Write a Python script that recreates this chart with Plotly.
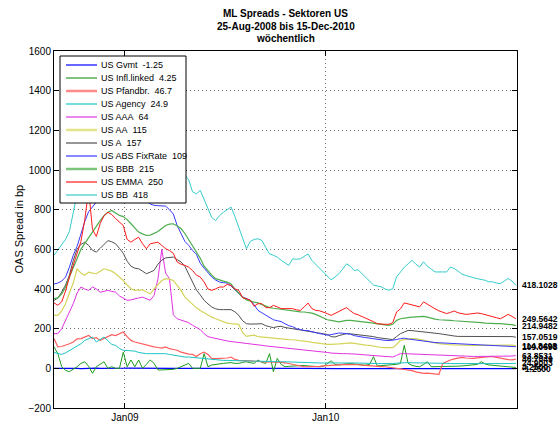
import plotly.graph_objects as go
import pandas as pd

# ---------------- data ----------------
dates = pd.date_range("2008-08-25", periods=121, freq="7D")

names = ["US Gvmt", "US Infl.linked", "US Pfandbr.", "US Agency", "US AAA", "US AA",
         "US A", "US ABS FixRate", "US BBB", "US EMMA", "US BB"]
legend_vals = ["-1.25", "4.25", "46.7", "24.9", "64", "115", "157", "109", "215", "250", "418"]
title_lines = ["ML Spreads - Sektoren US", "25-Aug-2008 bis 15-Dec-2010", "wöchentlich"]
x_tickvals = ["2009-01-01", "2010-01-01"]
x_ticktext = ["Jan09", "Jan10"]

gvmt = [0.0, 0.4, -0.3, 0.6, 1.0, 0.8, -0.4, -1.2, 0.2, 0.9,
        1.5, 0.7, -0.6, -1.0, 0.3, 1.2, 0.5, -0.2, 0.4, 1.0,
        0.6, -0.5, -0.9, 0.2, 0.8, 0.3, -0.4, -0.1, 0.5, 0.2,
        -0.3, -0.6, 0.1, 0.4, 0.0, -0.5, -0.2, 0.3, 0.1, -0.4,
        -0.7, -0.3, 0.2, 0.0, -0.4, -0.6, -0.2, 0.1, -0.3, -0.5,
        -0.8, -0.4, -0.1, -0.6, -0.9, -0.5, -0.3, -0.7, -1.0, -0.6,
        -0.4, -0.8, -1.1, -0.7, -0.5, -0.9, -1.2, -0.8, -0.6, -1.0,
        -1.3, -0.9, -0.7, -1.1, -1.4, -1.0, -0.8, -1.2, -1.5, -1.1,
        -0.9, -1.3, -1.6, -1.2, -1.0, -1.4, -1.7, -1.3, -1.1, -1.5,
        -1.8, -1.4, -1.2, -1.6, -1.9, -1.5, -1.3, -1.7, -2.0, -1.6,
        -1.4, -1.8, -1.5, -1.3, -1.7, -1.9, -1.6, -1.4, -1.8, -1.5,
        -1.3, -1.6, -1.4, -1.2, -1.5, -1.3, -1.1, -1.4, -1.2, -1.3,
        -1.25]

infl = [108, 74, 8, -10, -17, -5, 8, 25, 33, 10,
        -25, 8, 20, 33, 0, 8, 0, 0, 82, 8,
        42, 8, 42, 0, 20, 42, 25, -8, -8, -8,
        -8, -5, 0, 8, 15, 25, 0, 0, 0, 74,
        8, 17, 20, 25, 25, 27, 29, 25, 25, 30,
        33, 28, 25, 42, 30, 25, 74, -17, 50, 20,
        8, 10, 12, 12, 14, 15, 12, 10, 8, 8,
        10, 25, 38, 20, 17, 20, 24, 25, 22, 18,
        17, 16, 20, 59, 12, 14, 15, 16, 17, 20,
        25, 116, 25, 15, 10, 8, 20, 33, 8, 8,
        8, 8, 8, 9, 10, 11, 12, 14, 16, 18,
        20, 33, 22, 17, 15, 14, 12, 10, 9, 7,
        4.25]

pfandbr = [150, 108, 110, 116, 124, 133, 149, 150, 158, 166,
           150, 155, 141, 150, 158, 170, 165, 175, 183, 160,
           141, 133, 128, 124, 116, 112, 108, 105, 102, 108,
           99, 95, 91, 82, 76, 72, 70, 60, 74, 82,
           70, 49, 49, 49, 50, 52, 57, 45, 40, 40,
           40, 38, 36, 34, 32, 32, 32, 32, 31, 30,
           28, 24, 20, 16, 12, 8, 8, 8, 8, 10,
           12, 14, 16, 18, 18, 19, 20, 20, 20, 18,
           16, 14, 13, 12, 10, 9, 8, 6, 3, 0,
           -3, -6, -8, -12, -18, -22, -25, -24, -25, -28,
           -30, 25, 35, 42, 48, 53, 55, 52, 50, 50,
           53, 56, 58, 59, 59, 55, 50, 45, 44, 43,
           46.7049]

agency = [80, 74, 70, 78, 90, 100, 116, 124, 141, 150,
          158, 133, 145, 158, 140, 120, 116, 100, 91, 90,
          88, 87, 80, 76, 74, 74, 74, 74, 76, 74,
          70, 66, 62, 58, 57, 57, 55, 53, 50, 49,
          48, 45, 42, 41, 40, 40, 39, 38, 38, 38,
          37, 37, 36, 36, 35, 35, 34, 34, 33, 33,
          33, 32, 32, 31, 31, 30, 30, 29, 28, 27,
          27, 26, 26, 27, 27, 28, 28, 27, 27, 26,
          26, 25, 25, 24, 24, 24, 23, 23, 24, 26,
          28, 29, 29, 28, 28, 27, 27, 27, 26, 26,
          25, 25, 25, 24, 24, 24, 23, 23, 23, 22,
          22, 22, 21, 21, 21, 22, 22, 23, 24, 25,
          24.9003]

aaa = [175, 175, 200, 242, 290, 326, 380, 410, 400, 393,
       410, 400, 384, 390, 393, 388, 384, 365, 355, 343,
       345, 351, 355, 359, 350, 343, 368, 450, 600, 480,
       452, 270, 250, 242, 236, 230, 217, 208, 195, 175,
       160, 155, 150, 145, 141, 138, 135, 133, 130, 128,
       126, 124, 121, 118, 116, 113, 111, 109, 107, 105,
       104, 102, 100, 99, 97, 95, 93, 91, 88, 84,
       82, 80, 77, 75, 74, 74, 74, 74, 73, 71,
       69, 67, 65, 63, 62, 61, 60, 59, 57, 65,
       74, 74, 73, 72, 71, 71, 70, 69, 67, 66,
       65, 65, 64, 63, 63, 62, 62, 61, 61, 60,
       60, 60, 60, 60, 60, 60, 61, 61, 62, 62,
       63.8531]

aa = [267, 267, 290, 326, 380, 430, 502, 480, 469, 485,
      480, 477, 490, 502, 497, 490, 477, 460, 443, 420,
      401, 393, 395, 396, 385, 376, 401, 425, 443, 452,
      450, 443, 420, 393, 359, 340, 326, 305, 292, 280,
      267, 258, 250, 242, 235, 228, 225, 222, 222, 180,
      161, 165, 167, 160, 158, 155, 153, 150, 148, 147,
      146, 145, 144, 142, 141, 138, 135, 131, 128, 125,
      123, 121, 121, 121, 123, 125, 127, 128, 126, 122,
      119, 117, 116, 112, 108, 105, 104, 104, 104, 120,
      141, 145, 148, 150, 150, 145, 140, 136, 133, 128,
      125, 122, 121, 119, 118, 117, 116, 116, 116, 116,
      116, 116, 116, 117, 118, 118, 119, 119, 118, 117,
      114.8498]

us_a = [342, 355, 385, 420, 470, 544, 600, 625, 636, 620,
        595, 586, 605, 625, 644, 638, 628, 605, 580, 540,
        515, 505, 502, 490, 477, 485, 494, 525, 545, 557,
        559, 561, 548, 536, 515, 475, 430, 395, 370, 343,
        325, 309, 300, 296, 296, 296, 296, 285, 267, 240,
        225, 223, 222, 224, 225, 215, 210, 205, 210, 212,
        206, 203, 200, 196, 192, 188, 185, 182, 180, 178,
        175, 171, 160, 158, 165, 170, 175, 174, 172, 170,
        168, 167, 165, 160, 155, 152, 150, 148, 145, 160,
        175, 183, 191, 190, 188, 186, 186, 183, 180, 177,
        175, 172, 168, 165, 163, 161, 161, 161, 161, 161,
        161, 160, 159, 158, 158, 158, 159, 160, 161, 160,
        157.0519]

abs_fix = [425, 430, 440, 460, 510, 570, 615, 680, 740, 790,
           815, 835, 860, 890, 910, 930, 950, 960, 950, 930,
           920, 900, 880, 860, 845, 828, 822, 820, 820, 818,
           800, 778, 720, 680, 640, 620, 594, 575, 530, 505,
           480, 460, 445, 435, 432, 430, 415, 393, 376, 360,
           350, 343, 320, 292, 280, 267, 255, 245, 240, 236,
           225, 215, 210, 200, 196, 191, 190, 185, 178, 175,
           172, 167, 170, 175, 178, 177, 175, 172, 165, 160,
           158, 155, 152, 148, 145, 142, 141, 140, 142, 145,
           150, 152, 148, 145, 143, 141, 138, 135, 132, 130,
           129, 128, 126, 125, 124, 124, 122, 121, 120, 119,
           118, 117, 116, 115, 114, 113, 112, 111, 110, 110,
           109.0598]

bbb = [351, 355, 375, 409, 460, 510, 555, 600, 630, 660,
       690, 715, 745, 770, 787, 796, 785, 771, 765, 750,
       729, 705, 687, 678, 670, 672, 680, 690, 705, 720,
       727, 729, 718, 705, 680, 650, 619, 585, 555, 515,
       490, 470, 452, 445, 440, 435, 425, 400, 380, 359,
       345, 338, 334, 330, 322, 312, 306, 303, 300, 298,
       296, 292, 289, 287, 285, 284, 282, 278, 272, 264,
       255, 245, 242, 238, 234, 238, 242, 242, 240, 238,
       236, 234, 232, 228, 224, 222, 220, 217, 222, 242,
       250, 254, 256, 258, 260, 262, 262, 258, 252, 248,
       245, 245, 244, 242, 240, 239, 238, 237, 236, 234,
       232, 230, 228, 226, 225, 225, 225, 224, 222, 220,
       214.9482]

emma = [330, 318, 335, 390, 460, 520, 575, 640, 750, 900,
        700, 665, 730, 770, 787, 775, 755, 735, 720, 650,
        636, 650, 661, 628, 603, 628, 631, 636, 620, 603,
        594, 580, 536, 525, 519, 510, 493, 470, 460, 435,
        400, 393, 401, 410, 410, 423, 418, 400, 393, 356,
        351, 343, 313, 326, 326, 306, 306, 317, 310, 301,
        301, 301, 301, 295, 292, 310, 329, 301, 292, 290,
        284, 276, 267, 276, 285, 295, 306, 290, 276, 270,
        262, 255, 247, 235, 225, 222, 222, 222, 230, 284,
        300, 330, 325, 320, 318, 310, 335, 322, 310, 300,
        290, 282, 276, 282, 289, 280, 276, 272, 274, 278,
        279, 276, 270, 265, 259, 255, 250, 262, 272, 262,
        249.5642]

bb = [570, 595, 625, 650, 690, 780, 880, 1000, 1150, 1250,
      1200, 1230, 1300, 1350, 1400, 1420, 1380, 1300, 1250, 1200,
      1150, 1140, 1120, 1150, 1180, 1200, 1240, 1280, 1300, 1250,
      1200, 1150, 1100, 1040, 975, 950, 890, 880, 897, 850,
      800, 760, 745, 770, 787, 800, 813, 765, 710, 650,
      603, 640, 650, 653, 645, 610, 577, 570, 561, 545,
      530, 519, 552, 550, 552, 565, 577, 544, 525, 505,
      485, 468, 446, 460, 477, 500, 527, 515, 493, 497,
      478, 460, 440, 420, 415, 411, 400, 394, 401, 461,
      485, 510, 527, 545, 525, 511, 537, 515, 500, 486,
      486, 486, 486, 511, 503, 490, 475, 468, 461, 457,
      452, 448, 444, 436, 436, 430, 427, 440, 453, 440,
      418.1028]

series = [gvmt, infl, pfandbr, agency, aaa, aa, us_a, abs_fix, bbb, emma, bb]
for nm, s in zip(names, series):
    if len(s) != len(dates):
        raise ValueError(f"{nm}: {len(s)} values")

# ---------------- styles ----------------
colors = ["#0000ff", "#1f9a1f", "#ff5c5c", "#1cc4c4", "#e033e0", "#d4d45a",
          "#505050", "#3a3aff", "#4cae4c", "#ff1a1a", "#36cccc"]
widths = [1.2, 1.0, 1.2, 1.0, 1.0, 1.2, 1.0, 1.0, 1.2, 1.0, 1.0]
legend_widths = [1.2, 1.2, 2.5, 1.2, 1.2, 2.5, 1.2, 1.2, 2.5, 1.2, 1.2]
legend_colors = ["#0000ff", "#2a9a2a", "#ff8a8a", "#1cc4c4", "#e033e0", "#e4e48a",
                 "#505050", "#3a3aff", "#7cc47c", "#ff1a1a", "#36cccc"]

W, H = 560, 423
ML, MR, MT, MB = 54, 43, 51, 15
PW, PH = W - ML - MR, H - MT - MB


def px_x(px):
    return (px - ML) / PW


def px_y(py):
    return (H - MB - py) / PH


fig = go.Figure()
for nm, s, c, w in zip(names, series, colors, widths):
    fig.add_trace(go.Scatter(x=dates, y=s, mode="lines", name=nm,
                             line=dict(color=c, width=w),
                             showlegend=False, hoverinfo="skip"))

font_family = "Arial, Liberation Sans, Helvetica, sans-serif"

fig.update_layout(
    width=W, height=H,
    margin=dict(l=ML, r=MR, t=MT, b=MB, autoexpand=False),
    paper_bgcolor="white", plot_bgcolor="white",
    font=dict(family=font_family, size=10, color="black"),
    showlegend=False,
)

grid_kw = dict(showgrid=True, gridcolor="#707070", griddash="1px,3px", gridwidth=1,
               showline=True, linecolor="black", linewidth=1, mirror="ticks",
               ticks="inside", ticklen=5, tickcolor="black", zeroline=False,
               tickfont=dict(size=10))
fig.update_xaxes(range=["2008-08-25", "2010-12-15"], tickmode="array",
                 tickvals=x_tickvals, ticktext=x_ticktext, **grid_kw)
fig.update_yaxes(range=[-200, 1600], tickmode="linear", tick0=-200, dtick=200, **grid_kw)

annotations = []
shapes = []

# title (three bold lines)
for i, t in enumerate(title_lines):
    annotations.append(dict(text=f"<b>{t}</b>", xref="paper", yref="paper",
                            x=0.5, y=px_y(14 + 12.5 * i), xanchor="center", yanchor="middle",
                            showarrow=False, font=dict(size=10)))

# y axis title
annotations.append(dict(text="OAS Spread in bp", xref="paper", yref="paper",
                        x=px_x(18), y=0.5, xanchor="center", yanchor="middle",
                        textangle=-90, showarrow=False, font=dict(size=11)))

# end-value labels on the right
for s in series:
    v = s[-1]
    annotations.append(dict(text=f"<b>{v:.4f}</b>", xref="paper", yref="y",
                            x=1.0, y=v, xanchor="left", yanchor="middle",
                            xshift=3, showarrow=False,
                            font=dict(size=8.5, color="black")))

# legend box (drawn over the lines, as in the original)
shapes.append(dict(type="rect", xref="paper", yref="paper",
                   x0=px_x(60), x1=px_x(186), y0=px_y(203), y1=px_y(56),
                   fillcolor="white", line=dict(color="black", width=1), layer="above"))
for i, (nm, lv, c, w) in enumerate(zip(names, legend_vals, legend_colors, legend_widths)):
    yy = px_y(65 + 13 * i)
    shapes.append(dict(type="line", xref="paper", yref="paper",
                       x0=px_x(66), x1=px_x(97), y0=yy, y1=yy,
                       line=dict(color=c, width=w), layer="above"))
    annotations.append(dict(text=f"{nm}\u00a0 {lv}", xref="paper", yref="paper",
                            x=px_x(99), y=yy, xanchor="left", yanchor="middle",
                            showarrow=False, font=dict(size=9, color="black")))

fig.update_layout(annotations=annotations, shapes=shapes)

fig.write_html("out.html",
               config={"displayModeBar": False, "staticPlot": True},
               post_script="document.body.style.margin='0';document.body.style.overflow='hidden';")
